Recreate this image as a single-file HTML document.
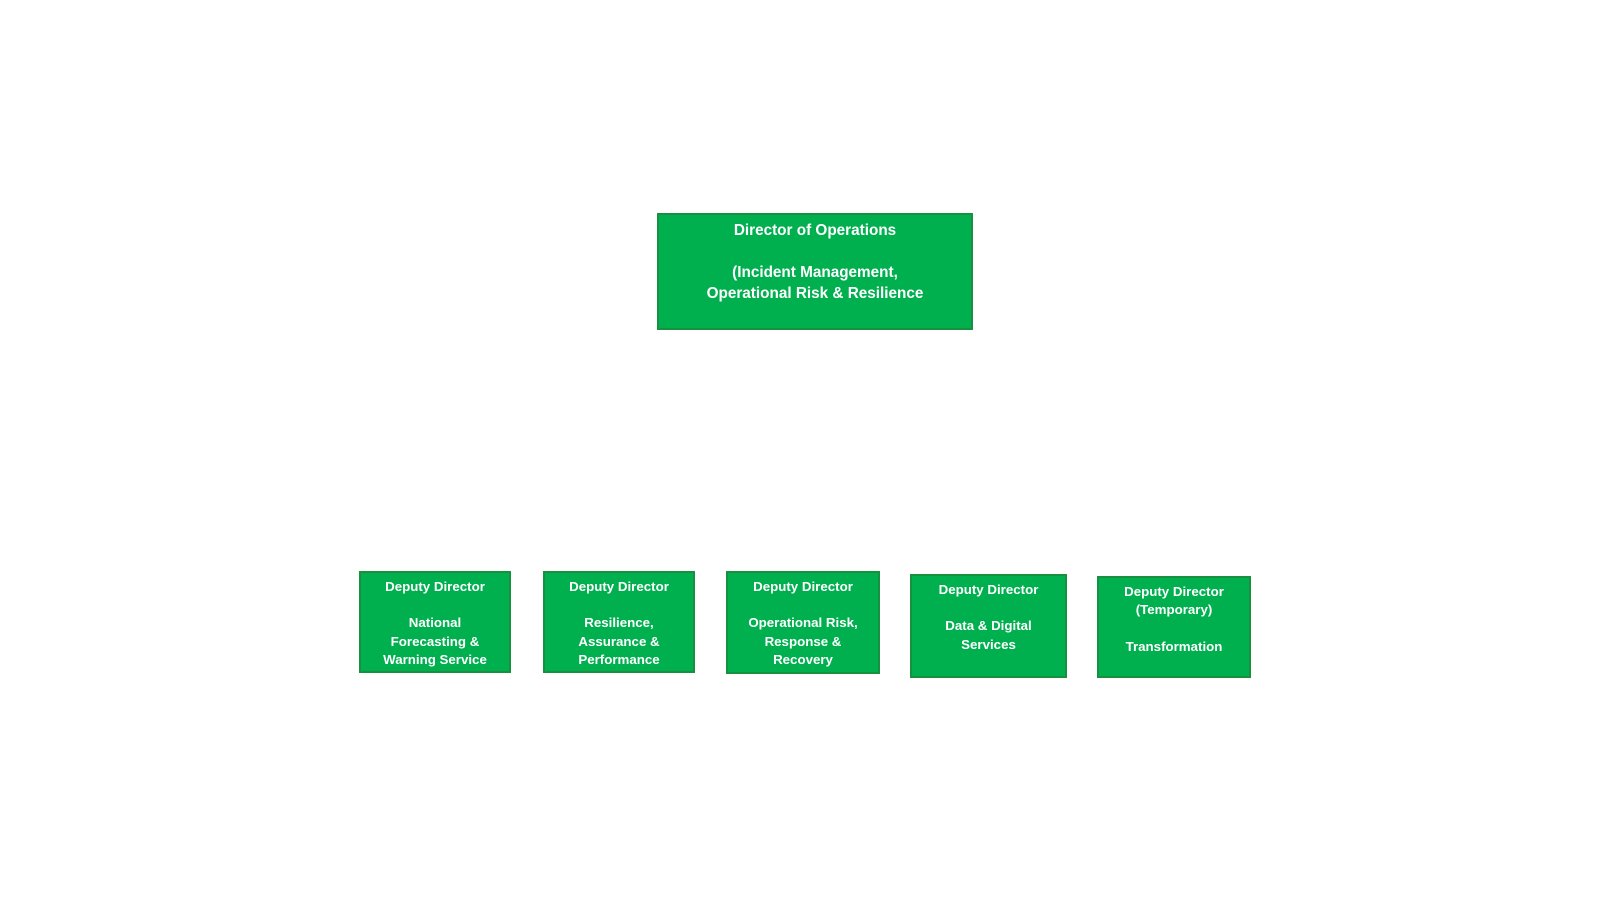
<!DOCTYPE html>
<html><head><meta charset="utf-8"><style>
body{margin:0;width:1600px;height:900px;background:#fff;position:relative;overflow:hidden;font-family:"Liberation Sans",sans-serif;}
.b{position:absolute;box-sizing:border-box;background:#00b04f;border:2px solid #17913f;color:#fff;font-weight:bold;text-align:center;}
.t{font-size:15.3px;line-height:20.9px;padding-top:6px;}
.d{font-size:13.3px;line-height:18.2px;padding-top:5px;}
</style></head><body>
<div class="b t" style="left:657px;top:213px;width:316px;height:117px;">Director of Operations<br><br>(Incident Management,<br>Operational Risk &amp; Resilience</div>
<div class="b d" style="left:359px;top:571px;width:152px;height:102px;">Deputy Director<br><br>National<br>Forecasting &amp;<br>Warning Service</div>
<div class="b d" style="left:543px;top:571px;width:152px;height:102px;">Deputy Director<br><br>Resilience,<br>Assurance &amp;<br>Performance</div>
<div class="b d" style="left:726px;top:571px;width:154px;height:103px;">Deputy Director<br><br>Operational Risk,<br>Response &amp;<br>Recovery</div>
<div class="b d" style="left:910px;top:574px;width:157px;height:104px;">Deputy Director<br><br>Data &amp; Digital<br>Services</div>
<div class="b d" style="left:1097px;top:576px;width:154px;height:102px;">Deputy Director<br>(Temporary)<br><br>Transformation</div>
</body></html>
